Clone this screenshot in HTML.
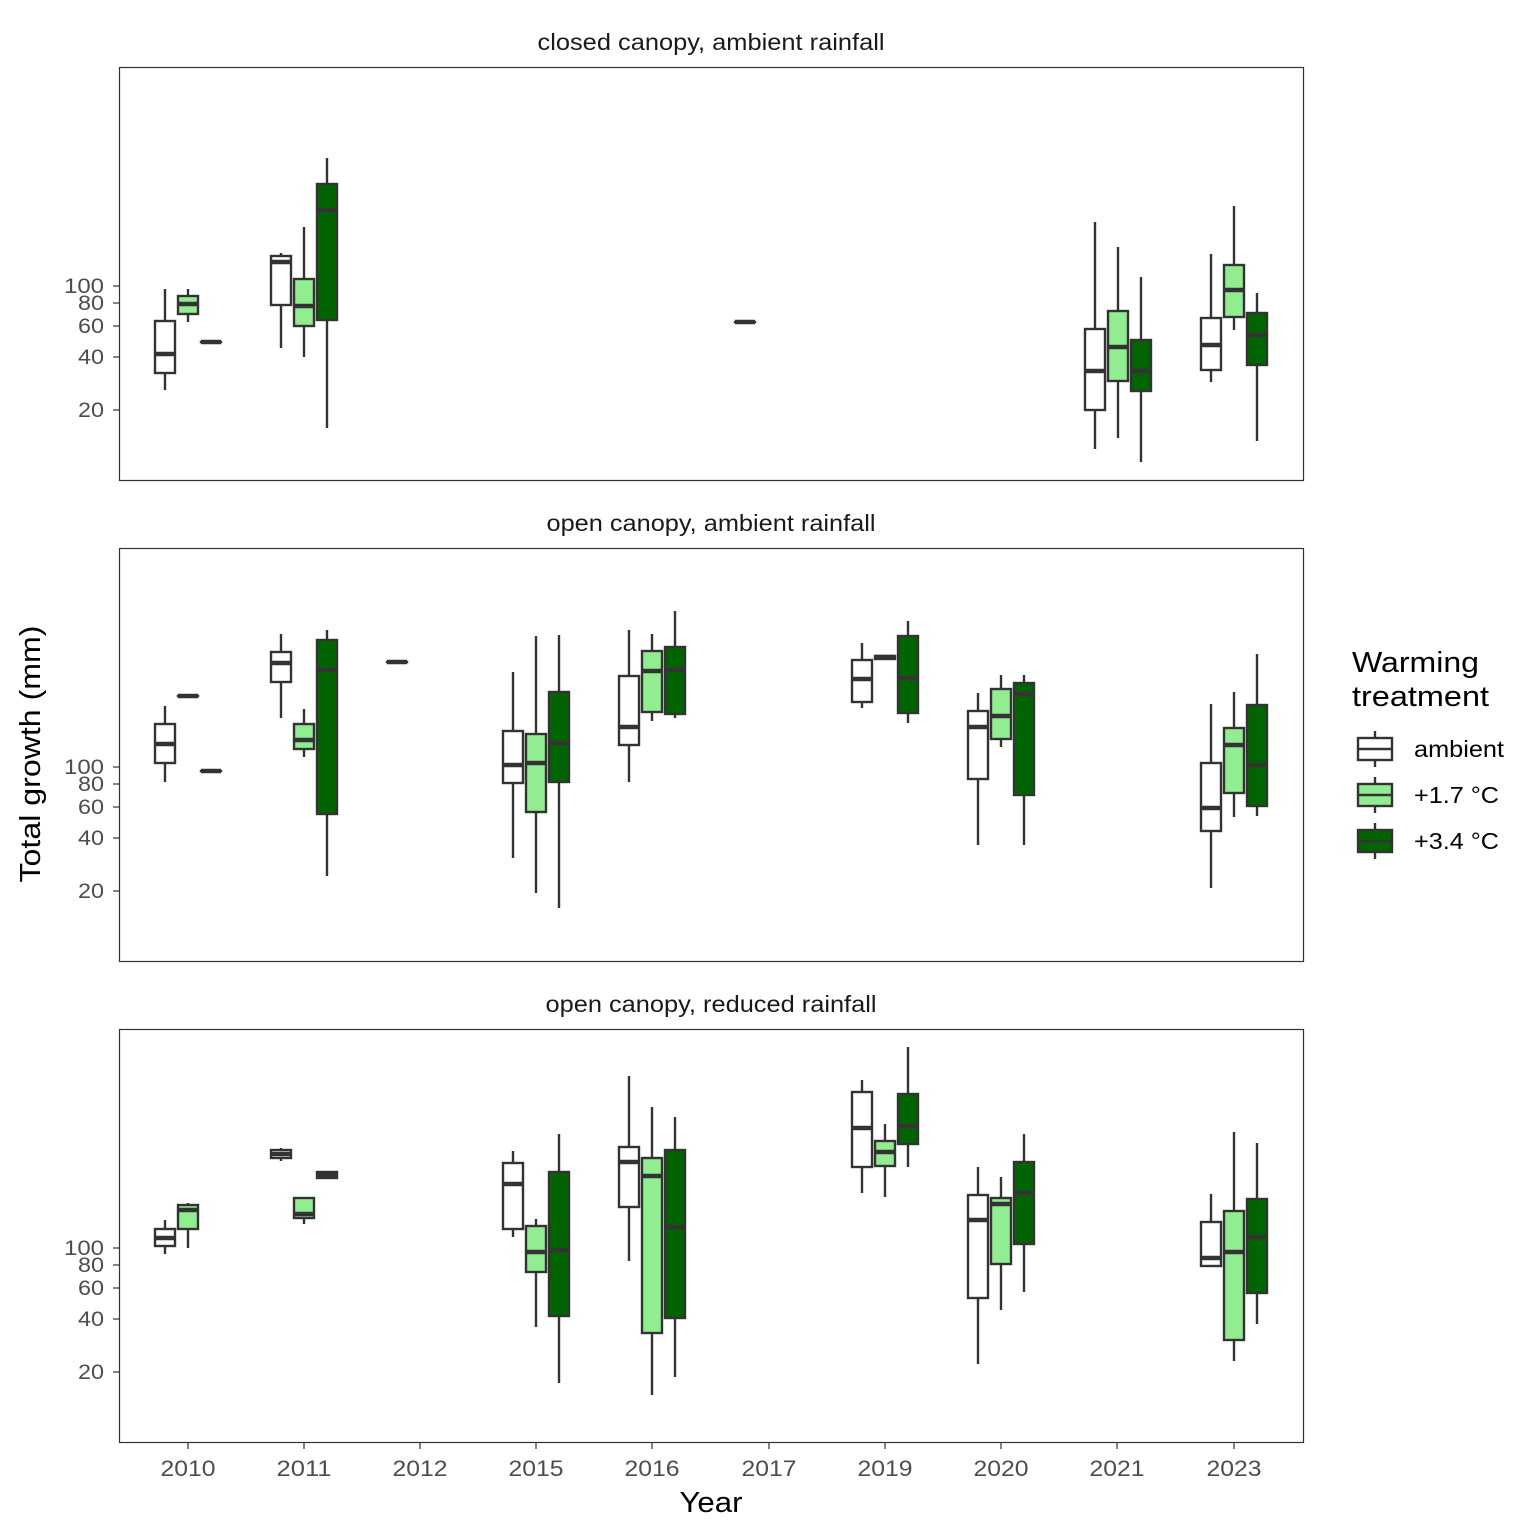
<!DOCTYPE html>
<html><head><meta charset="utf-8"><style>
html,body{margin:0;padding:0;background:#fff}
svg{display:block}
text{font-family:"Liberation Sans",sans-serif}
</style></head><body>
<svg id="s" width="1536" height="1536" xmlns="http://www.w3.org/2000/svg">
<rect width="1536" height="1536" fill="#fff"/>
<g font-size="23" fill="#1a1a1a" text-anchor="middle" lengthAdjust="spacingAndGlyphs">
<text x="711" y="50" textLength="347" lengthAdjust="spacingAndGlyphs">closed canopy, ambient rainfall</text>
<text x="711" y="531" textLength="329" lengthAdjust="spacingAndGlyphs">open canopy, ambient rainfall</text>
<text x="711" y="1012" textLength="331" lengthAdjust="spacingAndGlyphs">open canopy, reduced rainfall</text>
</g>
<g fill="none" stroke="#333" stroke-width="1.2">
<rect x="119.5" y="67.5" width="1184" height="413"/>
<rect x="119.5" y="548.5" width="1184" height="413"/>
<rect x="119.5" y="1029.5" width="1184" height="413"/>
</g>
<g font-size="21" fill="#4d4d4d" text-anchor="end">
<text x="104" y="293" textLength="40" lengthAdjust="spacingAndGlyphs">100</text><text x="104" y="310" textLength="26" lengthAdjust="spacingAndGlyphs">80</text><text x="104" y="333" textLength="26" lengthAdjust="spacingAndGlyphs">60</text><text x="104" y="364" textLength="26" lengthAdjust="spacingAndGlyphs">40</text><text x="104" y="417" textLength="26" lengthAdjust="spacingAndGlyphs">20</text>
<text x="104" y="774" textLength="40" lengthAdjust="spacingAndGlyphs">100</text><text x="104" y="791" textLength="26" lengthAdjust="spacingAndGlyphs">80</text><text x="104" y="814" textLength="26" lengthAdjust="spacingAndGlyphs">60</text><text x="104" y="845" textLength="26" lengthAdjust="spacingAndGlyphs">40</text><text x="104" y="898" textLength="26" lengthAdjust="spacingAndGlyphs">20</text>
<text x="104" y="1255" textLength="40" lengthAdjust="spacingAndGlyphs">100</text><text x="104" y="1272" textLength="26" lengthAdjust="spacingAndGlyphs">80</text><text x="104" y="1295" textLength="26" lengthAdjust="spacingAndGlyphs">60</text><text x="104" y="1326" textLength="26" lengthAdjust="spacingAndGlyphs">40</text><text x="104" y="1379" textLength="26" lengthAdjust="spacingAndGlyphs">20</text>
</g>
<g stroke="#333" stroke-width="1.2">
<line x1="113" x2="119" y1="286" y2="286"/><line x1="113" x2="119" y1="303" y2="303"/><line x1="113" x2="119" y1="326" y2="326"/><line x1="113" x2="119" y1="357" y2="357"/><line x1="113" x2="119" y1="410" y2="410"/>
<line x1="113" x2="119" y1="767" y2="767"/><line x1="113" x2="119" y1="784" y2="784"/><line x1="113" x2="119" y1="807" y2="807"/><line x1="113" x2="119" y1="838" y2="838"/><line x1="113" x2="119" y1="891" y2="891"/>
<line x1="113" x2="119" y1="1248" y2="1248"/><line x1="113" x2="119" y1="1265" y2="1265"/><line x1="113" x2="119" y1="1288" y2="1288"/><line x1="113" x2="119" y1="1319" y2="1319"/><line x1="113" x2="119" y1="1372" y2="1372"/>
<line x1="188" x2="188" y1="1443" y2="1449"/><line x1="304" x2="304" y1="1443" y2="1449"/><line x1="420" x2="420" y1="1443" y2="1449"/><line x1="536" x2="536" y1="1443" y2="1449"/><line x1="652" x2="652" y1="1443" y2="1449"/><line x1="769" x2="769" y1="1443" y2="1449"/><line x1="885" x2="885" y1="1443" y2="1449"/><line x1="1001" x2="1001" y1="1443" y2="1449"/><line x1="1117" x2="1117" y1="1443" y2="1449"/><line x1="1234" x2="1234" y1="1443" y2="1449"/>
</g>
<g font-size="22" fill="#4d4d4d" text-anchor="middle">
<text x="188" y="1476" textLength="55" lengthAdjust="spacingAndGlyphs">2010</text><text x="304" y="1476" textLength="55" lengthAdjust="spacingAndGlyphs">2011</text><text x="420" y="1476" textLength="55" lengthAdjust="spacingAndGlyphs">2012</text><text x="536" y="1476" textLength="55" lengthAdjust="spacingAndGlyphs">2015</text><text x="652" y="1476" textLength="55" lengthAdjust="spacingAndGlyphs">2016</text><text x="769" y="1476" textLength="55" lengthAdjust="spacingAndGlyphs">2017</text><text x="885" y="1476" textLength="55" lengthAdjust="spacingAndGlyphs">2019</text><text x="1001" y="1476" textLength="55" lengthAdjust="spacingAndGlyphs">2020</text><text x="1117" y="1476" textLength="55" lengthAdjust="spacingAndGlyphs">2021</text><text x="1234" y="1476" textLength="55" lengthAdjust="spacingAndGlyphs">2023</text>
</g>
<text x="711" y="1512" font-size="29" text-anchor="middle" fill="#000" textLength="63" lengthAdjust="spacingAndGlyphs">Year</text>
<text transform="translate(40,754) rotate(-90)" font-size="29" text-anchor="middle" fill="#000" textLength="257" lengthAdjust="spacingAndGlyphs">Total growth (mm)</text>
<g font-size="29" fill="#000"><text x="1352" y="672" textLength="127" lengthAdjust="spacingAndGlyphs">Warming</text><text x="1352" y="706" textLength="137" lengthAdjust="spacingAndGlyphs">treatment</text></g>
<g font-size="23" fill="#000"><text x="1414" y="757" textLength="90" lengthAdjust="spacingAndGlyphs">ambient</text><text x="1414" y="803" textLength="85" lengthAdjust="spacingAndGlyphs">+1.7 °C</text><text x="1414" y="849" textLength="85" lengthAdjust="spacingAndGlyphs">+3.4 °C</text></g>
<g stroke="#333" stroke-width="2.4">
<line x1="1375" x2="1375" y1="731" y2="767"/><rect x="1358" y="738" width="34" height="22" fill="#fff"/><line x1="1358" x2="1392" y1="749" y2="749"/>
<line x1="1375" x2="1375" y1="777" y2="813"/><rect x="1358" y="784" width="34" height="22" fill="#90ee90"/><line x1="1358" x2="1392" y1="795" y2="795"/>
<line x1="1375" x2="1375" y1="823" y2="859"/><rect x="1358" y="830" width="34" height="22" fill="#006400"/><line x1="1358" x2="1392" y1="841" y2="841"/>
</g>
<g id="boxes" stroke="#333" stroke-width="2.4"></g>
</svg>
<script>
var C=['#fff','#90ee90','#006400'];
var D=[
[165,0,289,321,354,373,390],[188,1,289,296,304,314,322],[211,2,342,342,342,342,342],
[281,0,253,256,262,305,348],[304,1,227,279,306,326,357],[327,2,158,184,210,320,428],
[745,0,322,322,322,322,322],
[1095,0,222,329,371,410,449],[1118,1,247,311,347,381,438],[1141,2,277,340,371,391,462],
[1211,0,254,318,345,370,382],[1234,1,206,265,290,317,330],[1257,2,293,313,335,365,441],
[165,0,706,724,744,763,782],[188,1,696,696,696,696,696],[211,2,771,771,771,771,771],
[281,0,634,652,663,682,718],[304,1,709,724,740,749,757],[327,2,630,640,670,814,876],
[397,0,662,662,662,662,662],
[513,0,672,731,765,783,858],[536,1,636,734,763,812,893],[559,2,635,692,743,782,908],
[629,0,630,676,727,745,782],[652,1,634,651,671,712,721],[675,2,611,647,670,714,718],
[862,0,643,660,679,702,708],[885,1,656,656,657,659,659],[908,2,621,636,678,713,723],
[978,0,693,711,727,779,845],[1001,1,675,689,716,739,747],[1024,2,675,683,694,795,845],
[1211,0,704,763,808,831,888],[1234,1,692,728,745,793,817],[1257,2,654,705,765,806,816],
[165,0,1220,1229,1238,1246,1254],[188,1,1203,1205,1210,1229,1248],
[281,0,1148,1150,1154,1158,1161],[304,1,1198,1198,1214,1218,1224],[327,2,1171,1172,1175,1178,1179],
[513,0,1151,1163,1184,1229,1237],[536,1,1219,1226,1252,1272,1327],[559,2,1134,1172,1250,1316,1383],
[629,0,1076,1147,1162,1207,1261],[652,1,1107,1158,1176,1333,1395],[675,2,1117,1150,1227,1318,1377],
[862,0,1080,1092,1128,1167,1193],[885,1,1124,1141,1152,1166,1197],[908,2,1047,1094,1126,1144,1167],
[978,0,1167,1195,1220,1298,1364],[1001,1,1177,1198,1204,1264,1310],[1024,2,1134,1162,1193,1244,1292],
[1211,0,1194,1222,1258,1266,1266],[1234,1,1132,1211,1252,1340,1361],[1257,2,1143,1199,1237,1293,1324]
];
var g=document.getElementById('boxes'),h='';
D.forEach(function(d){var x=d[0],l=x-10,w=20;
h+='<line x1="'+x+'" x2="'+x+'" y1="'+d[2]+'" y2="'+d[6]+'"/>';
h+='<rect x="'+l+'" y="'+d[3]+'" width="'+w+'" height="'+Math.max(d[5]-d[3],0.1)+'" fill="'+C[d[1]]+'"/>';
h+='<line x1="'+l+'" x2="'+(l+w)+'" y1="'+d[4]+'" y2="'+d[4]+'" stroke-width="4.5"/>';});
g.innerHTML=h;
</script>
</body></html>
